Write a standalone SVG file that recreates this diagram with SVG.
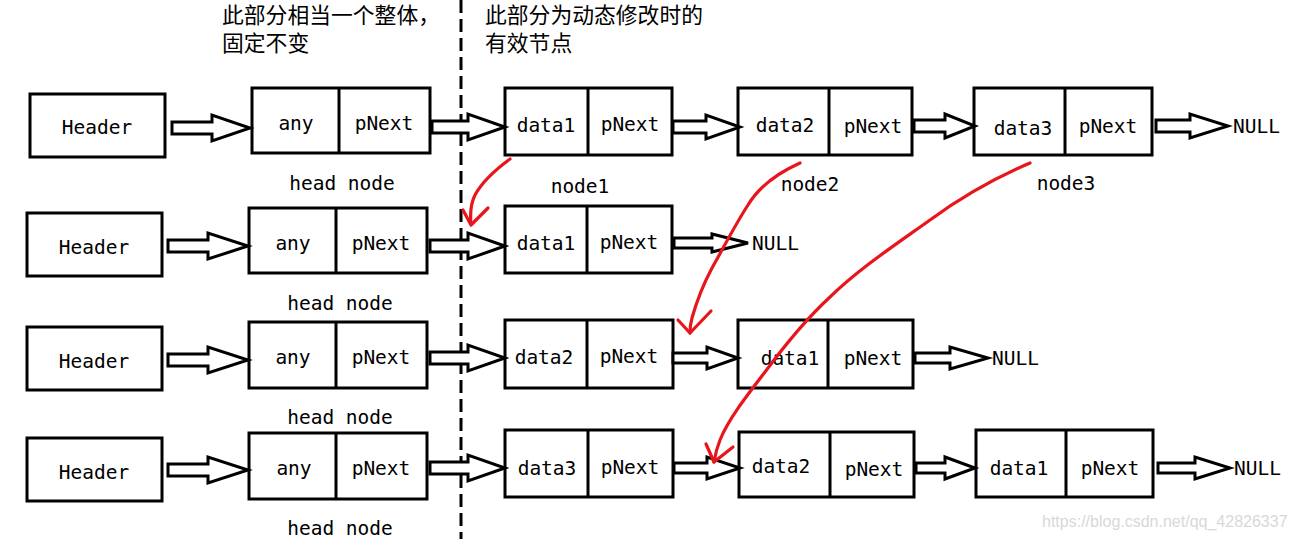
<svg xmlns="http://www.w3.org/2000/svg" width="1294" height="539" viewBox="0 0 1294 539">
<style>
.box{fill:#fff;stroke:#000;stroke-width:3}
.div{stroke:#000;stroke-width:3}
.arr{fill:#fff;stroke:#000;stroke-width:3;stroke-linejoin:miter}
.t{font-family:"DejaVu Sans Mono","Liberation Mono",monospace;font-size:19.5px;fill:#000;text-anchor:middle}
.n{font-family:"DejaVu Sans Mono","Liberation Mono",monospace;font-size:19.5px;fill:#000}
.cn{font-family:"Noto Sans CJK SC",sans-serif;font-size:21.8px;fill:#000}
.red{fill:none;stroke:#e8161c;stroke-width:3.2;stroke-linecap:round;stroke-linejoin:round}
.wm{font-family:"Liberation Sans",Arial,sans-serif;font-size:16px;fill:#d8d8d8}
</style>
<rect width="1294" height="539" fill="#fff"/>
<line x1="461" y1="0" x2="461" y2="539" stroke="#000" stroke-width="3" stroke-dasharray="13,6"/>
<g id="captions">
<text class="cn" x="222" y="23">此部分相当一个整体，</text>
<text class="cn" x="222" y="51">固定不变</text>
<text class="cn" x="485" y="23">此部分为动态修改时的</text>
<text class="cn" x="485" y="51">有效节点</text>
</g>
<g id="row1">
<g id="r1-header"><rect class="box" x="30" y="94" width="135" height="63"/><text class="t" x="97" y="134">Header</text></g>
<g id="r1-head"><rect class="box" x="252" y="88" width="178" height="65"/><line class="div" x1="339" y1="88" x2="339" y2="153"/><text class="t" x="296" y="130">any</text><text class="t" x="384" y="130">pNext</text><text class="t" x="342" y="190">head node</text></g>
<g id="r1-node1"><rect class="box" x="505" y="88" width="167" height="67"/><line class="div" x1="588" y1="88" x2="588" y2="155"/><text class="t" x="546" y="132">data1</text><text class="t" x="630" y="131">pNext</text><text class="t" x="580" y="193">node1</text></g>
<g id="r1-node2"><rect class="box" x="738" y="88" width="174" height="67"/><line class="div" x1="829" y1="88" x2="829" y2="155"/><text class="t" x="785" y="132">data2</text><text class="t" x="873" y="133">pNext</text><text class="t" x="810" y="191">node2</text></g>
<g id="r1-node3"><rect class="box" x="974" y="88" width="178" height="67"/><line class="div" x1="1065" y1="88" x2="1065" y2="155"/><text class="t" x="1023" y="135">data3</text><text class="t" x="1108" y="133">pNext</text><text class="t" x="1066" y="190">node3</text></g>
<text id="r1-null" class="n" x="1233" y="133">NULL</text>
</g>
<g id="row2">
<g id="r2-header"><rect class="box" x="27" y="213" width="135" height="63"/><text class="t" x="94" y="254">Header</text></g>
<g id="r2-head"><rect class="box" x="249" y="208" width="178" height="65"/><line class="div" x1="336" y1="208" x2="336" y2="273"/><text class="t" x="293" y="250">any</text><text class="t" x="381" y="250">pNext</text><text class="t" x="340" y="310">head node</text></g>
<g id="r2-node1"><rect class="box" x="505" y="206" width="167" height="67"/><line class="div" x1="587" y1="206" x2="587" y2="273"/><text class="t" x="546" y="250">data1</text><text class="t" x="629" y="249">pNext</text></g>
<text id="r2-null" class="n" x="752" y="250">NULL</text>
</g>
<g id="row3">
<g id="r3-header"><rect class="box" x="27" y="327" width="135" height="63"/><text class="t" x="94" y="368">Header</text></g>
<g id="r3-head"><rect class="box" x="249" y="322" width="178" height="66"/><line class="div" x1="336" y1="322" x2="336" y2="388"/><text class="t" x="293" y="364">any</text><text class="t" x="381" y="364">pNext</text><text class="t" x="340" y="424">head node</text></g>
<g id="r3-node2"><rect class="box" x="505" y="320" width="168" height="68"/><line class="div" x1="587" y1="320" x2="587" y2="388"/><text class="t" x="544" y="364">data2</text><text class="t" x="629" y="363">pNext</text></g>
<g id="r3-node1"><rect class="box" x="738" y="320" width="175" height="68"/><line class="div" x1="828" y1="320" x2="828" y2="388"/><text class="t" x="790" y="365">data1</text><text class="t" x="873" y="365">pNext</text></g>
<text id="r3-null" class="n" x="992" y="365">NULL</text>
</g>
<g id="row4">
<g id="r4-header"><rect class="box" x="27" y="438" width="135" height="63"/><text class="t" x="94" y="479">Header</text></g>
<g id="r4-head"><rect class="box" x="249" y="433" width="178" height="66"/><line class="div" x1="336" y1="433" x2="336" y2="499"/><text class="t" x="294" y="475">any</text><text class="t" x="381" y="475">pNext</text><text class="t" x="340" y="535">head node</text></g>
<g id="r4-node3"><rect class="box" x="505" y="430" width="168" height="67"/><line class="div" x1="588" y1="430" x2="588" y2="497"/><text class="t" x="547" y="475">data3</text><text class="t" x="630" y="474">pNext</text></g>
<g id="r4-node2"><rect class="box" x="739" y="432" width="175" height="65"/><line class="div" x1="830" y1="432" x2="830" y2="497"/><text class="t" x="781" y="473">data2</text><text class="t" x="874" y="476">pNext</text></g>
<g id="r4-node1"><rect class="box" x="976" y="430" width="177" height="67"/><line class="div" x1="1066" y1="430" x2="1066" y2="497"/><text class="t" x="1019" y="475">data1</text><text class="t" x="1110" y="475">pNext</text></g>
<text id="r4-null" class="n" x="1234" y="475">NULL</text>
</g>
<g id="connectors">
<path class="arr" d="M172 122H212V115L250 128L212 141V134H172Z"/>
<path class="arr" d="M432 121H468V114L505 127L468 140V133H432Z"/>
<path class="arr" d="M673 121H706V115L740 127L706 139V133H673Z"/>
<path class="arr" d="M914 120H945V114L975 126L945 138V132H914Z"/>
<path class="arr" d="M1156 120H1190V114L1228 126L1190 138V132H1156Z"/>
<path class="arr" d="M168 240H208V233L248 246L208 259V252H168Z"/>
<path class="arr" d="M430 240H468V233L505 246L468 259V252H430Z"/>
<path class="arr" d="M674 238H712V234L748 243L712 252V248H674Z"/>
<path class="arr" d="M168 354H208V347L248 360L208 373V366H168Z"/>
<path class="arr" d="M430 352H468V345L505 358L468 371V364H430Z"/>
<path class="arr" d="M673 353H707V347L738 358L707 369V363H673Z"/>
<path class="arr" d="M915 353H950V347L988 358L950 369V363H915Z"/>
<path class="arr" d="M168 464H208V457L248 470L208 483V476H168Z"/>
<path class="arr" d="M430 462H468V455L505 468L468 481V474H430Z"/>
<path class="arr" d="M674 463H707V457L740 468L707 479V473H674Z"/>
<path class="arr" d="M916 463H945V457L975 468L945 479V473H916Z"/>
<path class="arr" d="M1158 463H1195V457L1230 468L1195 479V473H1158Z"/>
<path class="red" d="M510 159C495 170 482 182 475 195C470 205 470 214 471 224"/>
<path class="red" d="M463 210L471 225L488 208"/>
<path class="red" d="M800 163C780 172 760 185 748 205C735 225 725 245 712 268C703 285 697 300 692 318C690 325 690 330 690 333"/>
<path class="red" d="M678 320L690 333L711 311"/>
<path class="red" d="M1030 163C990 180 960 198 930 220C895 245 860 268 830 297C805 320 785 345 765 372C745 398 728 420 720 440C716 450 715 456 714 462"/>
<path class="red" d="M706 444L714 462L733 447"/>
</g>
<text class="wm" x="1042" y="527">https://blog.csdn.net/qq_42826337</text>
</svg>
